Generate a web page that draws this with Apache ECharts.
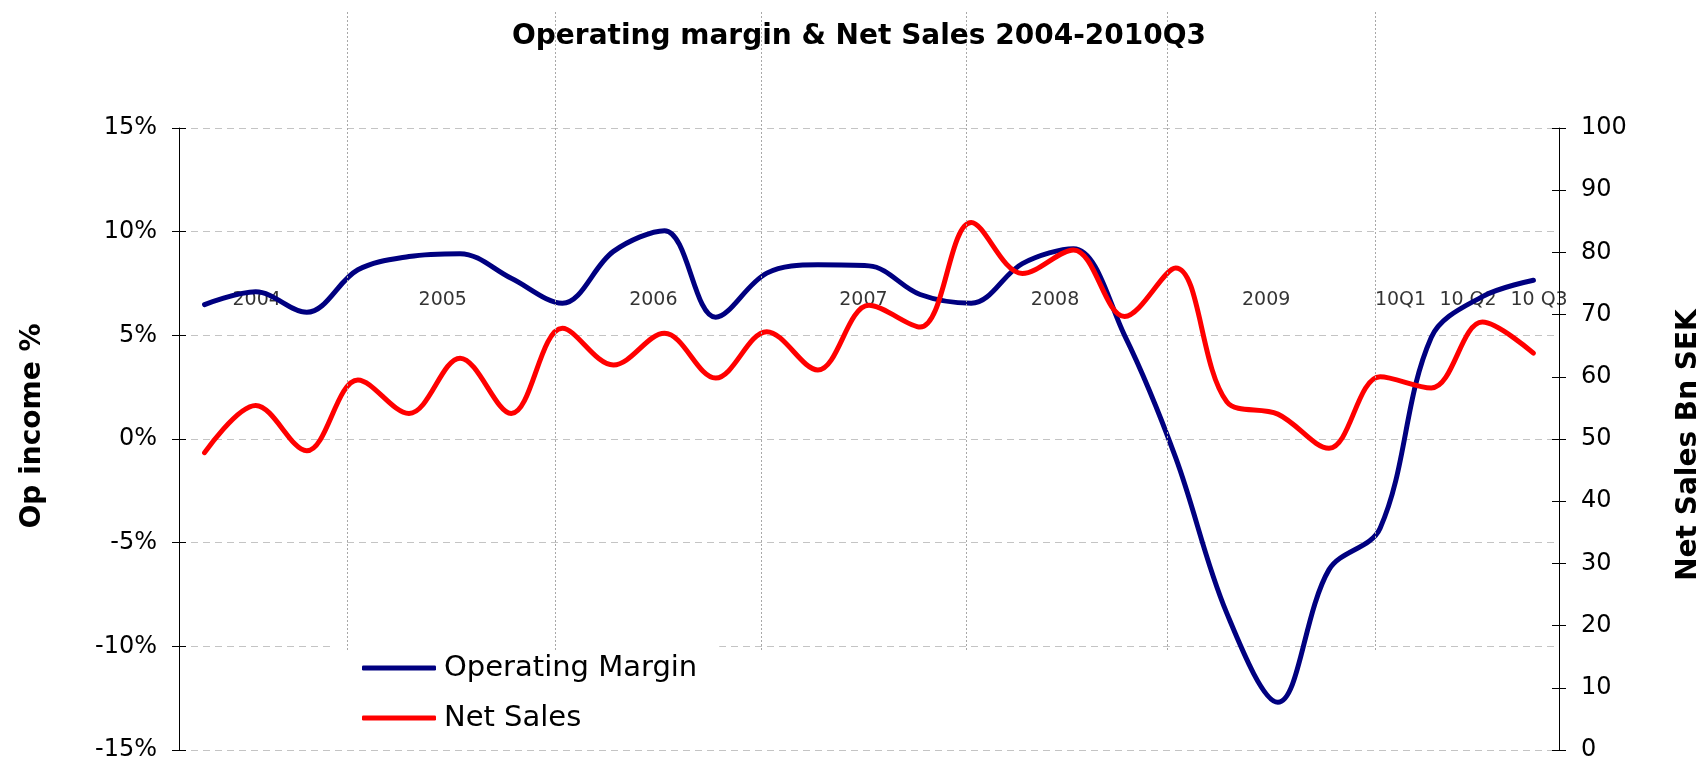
<!DOCTYPE html>
<html>
<head>
<meta charset="utf-8">
<title>Operating margin & Net Sales 2004-2010Q3</title>
<script src="https://cdn.jsdelivr.net/npm/echarts@6/dist/echarts.min.js"></script>
<style>
  html, body { margin: 0; padding: 0; background: #fff; }
  #chart { width: 1702px; height: 759px; }
</style>
</head>
<body>
<div id="chart"></div>
<script>
// quarterly figures, 2004Q1 .. 2010Q3
const quarters = [
  '2004Q1', '2004Q2', '2004Q3', '2004Q4',
  '2005Q1', '2005Q2', '2005Q3', '2005Q4',
  '2006Q1', '2006Q2', '2006Q3', '2006Q4',
  '2007Q1', '2007Q2', '2007Q3', '2007Q4',
  '2008Q1', '2008Q2', '2008Q3', '2008Q4',
  '2009Q1', '2009Q2', '2009Q3', '2009Q4',
  '2010Q1', '2010Q2', '2010Q3'
]
const operatingMargin = [
  6.48, 7.1, 6.11, 8.16,
  8.8, 8.94, 7.75, 6.55,
  9.05, 10.05, 5.87, 8.0,
  8.4, 8.35, 6.97, 6.55,
  8.46, 9.18, 5.0, -0.9,
  -8.4, -12.7, -6.3, -4.3,
  4.9, 6.87, 7.66
]
const netSales = [
  47.8, 55.4, 48.1, 59.5,
  54.1, 63.0, 54.1, 67.8,
  61.9, 67.0, 59.8, 67.25,
  61.1, 71.5, 68.0, 84.8,
  76.6, 80.4, 69.7, 77.5,
  56.0, 54.0, 48.5, 60.0,
  58.2, 68.8, 63.8
]

// period captions written inside the plot, and the dotted year separators
const periodLabels = ['2004', '2005', '2006', '2007', '2008', '2009', '10Q1', '10 Q2', '10 Q3']
const periodLabelAt = [1.02, 4.66, 8.78, 12.89, 16.64, 20.77, 23.4, 24.72, 26.11]
const periodBreaks = [2.79, 6.86, 10.89, 14.91, 18.83, 22.91]

const FONT = 'DejaVu Sans'
const BLUE = '#000080'
const RED = '#ff0000'

const chart = echarts.init(document.getElementById('chart'), null, { renderer: 'canvas' })

// second axis on each side, only to draw the inner half of the crossing ticks
const tickOnly = (position, min, max, interval) => ({
  type: 'value',
  gridIndex: 0,
  position,
  min,
  max,
  interval,
  axisLine: { show: false },
  axisTick: { show: true, inside: true, length: 7, lineStyle: { color: '#000' } },
  axisLabel: { show: false },
  splitLine: { show: false }
})

const option = {
  animation: false,
  backgroundColor: '#fff',
  textStyle: { fontFamily: FONT },
  title: {
    text: 'Operating margin & Net Sales 2004-2010Q3',
    left: 512,
    top: 23,
    padding: 0,
    textStyle: { fontFamily: FONT, fontWeight: 'bold', fontSize: 28, color: '#000' }
  },
  legend: {
    data: ['Operating Margin', 'Net Sales'],
    orient: 'vertical',
    left: 335,
    top: 645,
    padding: [5, 22, 5, 27],
    itemGap: 14,
    itemWidth: 74,
    itemHeight: 5,
    icon: 'roundRect',
    backgroundColor: '#fff',
    textStyle: { fontFamily: FONT, fontSize: 29, color: '#000', lineHeight: 36, padding: [0, 0, 0, 3] }
  },
  grid: [
    { left: 179, right: 143, top: 128, bottom: 9, containLabel: false, outerBoundsMode: 'none' },
    { left: 179, right: 143, top: 12, bottom: 109, containLabel: false, outerBoundsMode: 'none' }
  ],
  xAxis: [
    { type: 'category', gridIndex: 0, data: quarters, boundaryGap: true, show: false },
    { type: 'value', gridIndex: 1, min: -0.5, max: 26.5, show: false }
  ],
  yAxis: [
    {
      type: 'value',
      gridIndex: 0,
      position: 'left',
      min: -15,
      max: 15,
      interval: 5,
      name: 'Op income %',
      nameLocation: 'middle',
      nameRotate: 90,
      nameGap: 132,
      nameMoveOverlap: false,
      nameTextStyle: { fontFamily: FONT, fontWeight: 'bold', fontSize: 28, color: '#000', padding: [0, 0, 0, 26] },
      axisLine: { show: true, lineStyle: { color: '#000', width: 1 } },
      axisTick: { show: true, length: 7, lineStyle: { color: '#000' } },
      axisLabel: {
        margin: 22,
        fontFamily: FONT,
        fontSize: 24,
        color: '#000',
        formatter: v => v + '%'
      },
      splitLine: { show: true, lineStyle: { color: '#c4c4c4', width: 1, type: [7, 5] } }
    },
    {
      type: 'value',
      gridIndex: 0,
      position: 'right',
      min: 0,
      max: 100,
      interval: 10,
      name: 'Net Sales Bn SEK',
      nameLocation: 'middle',
      nameRotate: 90,
      nameGap: 116,
      nameMoveOverlap: false,
      nameTextStyle: { fontFamily: FONT, fontWeight: 'bold', fontSize: 28, color: '#000', padding: [0, 12, 0, 0] },
      axisLine: { show: true, lineStyle: { color: '#000', width: 1 } },
      axisTick: { show: true, length: 7, lineStyle: { color: '#000' } },
      axisLabel: { margin: 22, fontFamily: FONT, fontSize: 24, color: '#000' },
      splitLine: { show: false }
    },
    tickOnly('left', -15, 15, 5),
    tickOnly('right', 0, 100, 10),
    { type: 'value', gridIndex: 1, min: 0, max: 1, show: false }
  ],
  series: [
    {
      name: 'breaks',
      type: 'line',
      xAxisIndex: 1,
      yAxisIndex: 4,
      data: [],
      silent: true,
      markLine: {
        silent: true,
        symbol: 'none',
        label: { show: false },
        lineStyle: { color: '#a8a8a8', width: 1, type: [2, 2] },
        data: periodBreaks.map(x => ({ xAxis: x }))
      }
    },
    {
      name: 'Operating Margin',
      type: 'line',
      xAxisIndex: 0,
      yAxisIndex: 0,
      data: operatingMargin,
      smooth: 0.35,
      symbol: 'none',
      lineStyle: { color: BLUE, width: 5, cap: 'round', join: 'round' },
      itemStyle: { color: BLUE }
    },
    {
      name: 'Net Sales',
      type: 'line',
      xAxisIndex: 0,
      yAxisIndex: 1,
      data: netSales,
      smooth: 0.35,
      symbol: 'none',
      lineStyle: { color: RED, width: 5, cap: 'round', join: 'round' },
      itemStyle: { color: RED }
    },
    {
      name: 'periods',
      type: 'scatter',
      xAxisIndex: 1,
      yAxisIndex: 4,
      silent: true,
      symbolSize: 1,
      itemStyle: { color: 'rgba(0,0,0,0)' },
      label: {
        show: true,
        position: 'inside',
        formatter: p => p.name,
        fontFamily: FONT,
        fontSize: 19,
        color: '#000'
      },
      data: periodLabels.map((t, i) => ({ name: t, value: [periodLabelAt[i], 0.548] }))
    }
  ]
}

chart.setOption(option)
</script>
</body>
</html>
